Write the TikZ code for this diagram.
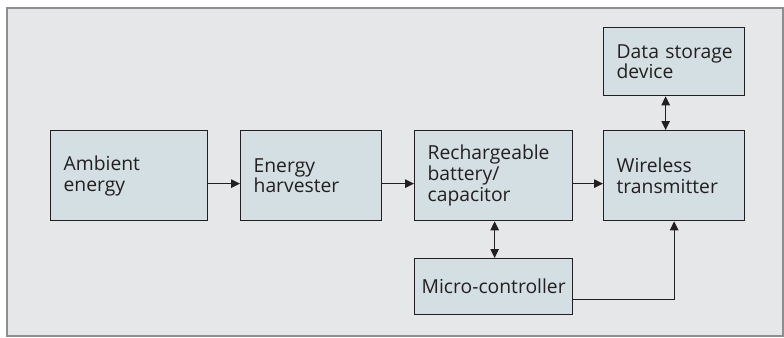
\documentclass[tikz,border=0pt]{standalone}
\usepackage{fontspec}
\setmainfont{Open Sans}
\usetikzlibrary{arrows.meta,positioning}

\definecolor{panelgray}{HTML}{E6E7E8}
\definecolor{framegray}{HTML}{8E8E8E}
\definecolor{boxfill}{HTML}{D3DFE2}
\definecolor{inkdark}{HTML}{231F20}

\tikzset{
  block/.style={draw=inkdark, line width=1.3bp, fill=boxfill, anchor=north west,
    inner xsep=13bp, inner ysep=0pt, align=left, text=inkdark,
    font=\fontsize{19.3bp}{20.7bp}\selectfont},
  link/.style={draw=inkdark, line width=1.1bp, -{Triangle[length=9bp,width=8.5bp]}},
  duplex/.style={link, {Triangle[length=9bp,width=8.5bp]}-{Triangle[length=9bp,width=8.5bp]}}
}

\begin{document}
\begin{tikzpicture}[x=1bp,y=1bp]

% Canvas and panel
\useasboundingbox (0,0) rectangle (784,337);
\fill[white] (0,0) rectangle (784,337);
\draw[framegray, line width=1.6bp, fill=panelgray] (7,1) rectangle (783,329);

% Blocks (top-left corner, width, height)
\node[block, text width=131bp, minimum height=90bp] (amb) at (50,207) {Ambient\\energy};
\node[block, text width=115bp, minimum height=90bp] (harv) at (240,207) {Energy\\harvester};
\node[block, text width=132bp, minimum height=90bp] (batt) at (414,207) {Rechargeable\\battery/\\capacitor};
\node[block, text width=115bp, minimum height=90bp] (wtx) at (603,207) {Wireless\\transmitter};
\node[block, text width=115bp, minimum height=68bp] (store) at (603,310) {\mbox{Data storage}\\device};
\node[block, text width=146bp, inner xsep=6bp, minimum height=56bp, align=center] (mcu) at (414,79) {Micro-controller};

% Power chain
\draw[link] ([yshift=-8bp]amb.east) -- ([yshift=-8bp]harv.west);
\draw[link] ([yshift=-8bp]harv.east) -- ([yshift=-8bp]batt.west);
\draw[link] ([yshift=-8bp]batt.east) -- ([yshift=-8bp]wtx.west);

% Two-way links
\draw[duplex] ([xshift=-8.5bp]store.south) -- ([xshift=-8.5bp]wtx.north);
\draw[duplex] ([xshift=1bp]batt.south) -- ([xshift=1bp]mcu.north);

% Controller to transmitter
\coordinate (bend) at ([yshift=-13bp]mcu.east -| wtx.south);
\draw[link] ([yshift=-13bp]mcu.east) -- (bend) -- (wtx.south);

\end{tikzpicture}
\end{document}
